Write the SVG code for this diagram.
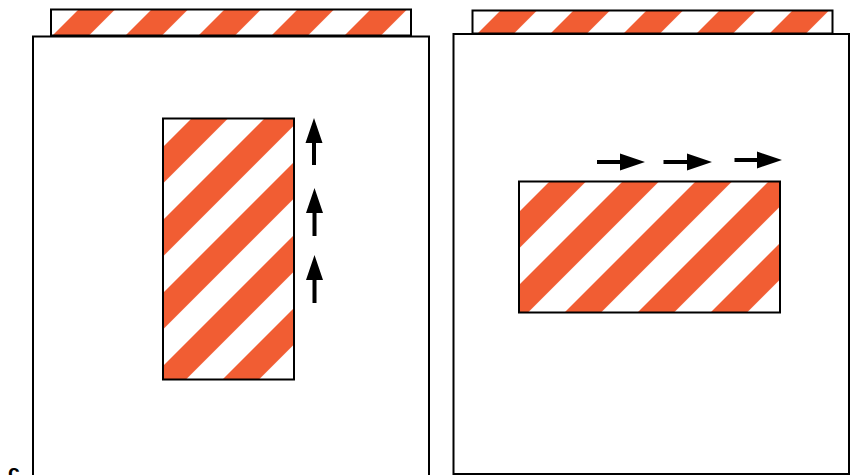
<svg xmlns="http://www.w3.org/2000/svg" width="850" height="475" viewBox="0 0 850 475">
<style>
.box{stroke:#000;stroke-width:2;}
.panel{fill:#fff;stroke:#000;stroke-width:2;}
.arrow{fill:#000;}
.lbl{font-family:"Liberation Sans",Arial,sans-serif;font-weight:bold;font-size:21px;fill:#000;}
</style>
<defs>
<pattern id="sLT" patternUnits="userSpaceOnUse" width="51.62" height="51.62" patternTransform="rotate(45) translate(10.6,0)">
<rect width="51.62" height="51.62" fill="#fff"/><rect width="25.8" height="51.62" fill="#f15d33"/>
</pattern>
<pattern id="sLI" patternUnits="userSpaceOnUse" width="51.62" height="51.62" patternTransform="rotate(45) translate(12.7,0)">
<rect width="51.62" height="51.62" fill="#fff"/><rect width="25.8" height="51.62" fill="#f15d33"/>
</pattern>
<pattern id="sRT" patternUnits="userSpaceOnUse" width="51.62" height="51.62" patternTransform="rotate(45)">
<rect width="51.62" height="51.62" fill="#fff"/><rect width="25.8" height="51.62" fill="#f15d33"/>
</pattern>
<pattern id="sRI" patternUnits="userSpaceOnUse" width="51.62" height="51.62" patternTransform="rotate(45) translate(0.7,0)">
<rect width="51.62" height="51.62" fill="#fff"/><rect width="25.8" height="51.62" fill="#f15d33"/>
</pattern>
</defs>
<g id="left-panel">
<rect class="box" x="51" y="9.5" width="360" height="26" fill="url(#sLT)"/>
<rect class="panel" x="33" y="36.5" width="396" height="460"/>
<rect class="box" x="163" y="118.5" width="131" height="261" fill="url(#sLI)"/>
</g>
<g id="right-panel">
<rect class="box" x="472.5" y="10.5" width="360" height="23" fill="url(#sRT)"/>
<rect class="panel" x="453.5" y="34" width="395.5" height="440"/>
<rect class="box" x="519" y="181.5" width="261" height="131" fill="url(#sRI)"/>
</g>
<g id="arrows">
<path class="arrow" d="M314 118 L322.5 143 L316 143 L316 165 L312 165 L312 143 L305.5 143 Z"/>
<path class="arrow" d="M314.5 188 L323 213 L316.5 213 L316.5 236 L312.5 236 L312.5 213 L306 213 Z"/>
<path class="arrow" d="M314.5 255 L323 280 L316.5 280 L316.5 303 L312.5 303 L312.5 280 L306 280 Z"/>
<path class="arrow" d="M645 162 L620 153.5 L620 160 L597 160 L597 164 L620 164 L620 170.5 Z"/>
<path class="arrow" d="M712 162 L687 153.5 L687 160 L663.5 160 L663.5 164 L687 164 L687 170.5 Z"/>
<path class="arrow" d="M782 160 L757 151.5 L757 158 L734.5 158 L734.5 162 L757 162 L757 168.5 Z"/>
</g>
<text class="lbl" x="8" y="479">c</text>
</svg>
